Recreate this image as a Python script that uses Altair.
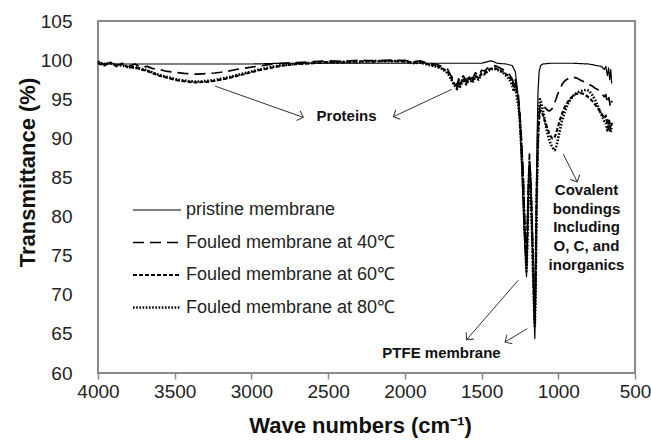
import math
import altair as alt
import pandas as pd

FONT = "Liberation Sans, Arial, sans-serif"

series_names = ["pristine membrane", "Fouled membrane at 40℃",
                "Fouled membrane at 60℃", "Fouled membrane at 80℃"]
series_dash = [[1, 0], [11, 6], [4, 2], [1.6, 1.6]]
series_width = [1.2, 2.6, 2.6, 2.0]

x_ticks = [4000, 3500, 3000, 2500, 2000, 1500, 1000, 500]
y_ticks = [60, 65, 70, 75, 80, 85, 90, 95, 100, 105]

wn_pristine = [4000, 3900, 3800, 3700, 3600, 3400, 3200, 3000, 2800, 2600,
               2400, 2200, 2000, 1800, 1600, 1500, 1460, 1440, 1420, 1400,
               1340, 1300, 1280, 1265, 1250, 1240, 1230, 1220, 1212, 1207,
               1200, 1192, 1185, 1178, 1170, 1162, 1156, 1153, 1149, 1143,
               1138, 1132, 1125, 1115, 1100, 1050, 1000, 900, 800, 750,
               720, 700, 690, 680, 672, 665, 658, 652]
t_pristine = [99.6, 99.5, 99.5, 99.5, 99.5, 99.5, 99.5, 99.5, 99.6, 99.6,
              99.6, 99.6, 99.6, 99.6, 99.6, 99.6, 99.8, 99.9, 99.8, 99.6,
              99.5, 99.3, 98.5, 96, 92, 87, 82, 77, 74, 72.3,
              78, 85, 87, 84, 78, 71, 66, 64.4, 68, 80,
              90, 96, 98.5, 99.3, 99.5, 99.6, 99.6, 99.6, 99.5, 99.3,
              99.2, 98.8, 99.2, 98.0, 99.0, 97.5, 98.8, 97.0]

wn_fouled = [4000, 3960, 3920, 3880, 3840, 3800, 3760, 3720, 3680, 3640,
             3600, 3560, 3520, 3480, 3440, 3400, 3360, 3320, 3280, 3240,
             3200, 3150, 3100, 3050, 3000, 2950, 2900, 2850, 2800, 2700,
             2600, 2500, 2400, 2300, 2200, 2100, 2000, 1950, 1900, 1850,
             1800, 1760, 1720, 1700, 1680, 1660, 1650, 1640, 1620, 1600,
             1580, 1560, 1540, 1520, 1500, 1480, 1460, 1440, 1420, 1400,
             1380, 1360, 1340, 1320, 1300, 1290, 1280, 1270, 1260, 1250,
             1240, 1230, 1220, 1212, 1207, 1202, 1195, 1188, 1180, 1172,
             1165, 1158, 1153, 1148, 1140, 1130, 1120, 1110, 1100, 1090,
             1080, 1070, 1060, 1050, 1040, 1030, 1023, 1015, 1005, 990,
             975, 960, 940, 920, 900, 880, 860, 840, 820, 800,
             780, 760, 740, 720, 700, 690, 680, 670, 660, 650]

t_40 = [99.7, 99.4, 99.8, 99.3, 99.6, 99.2, 99.5, 99.1, 99.2, 98.9,
        98.8, 98.6, 98.5, 98.4, 98.3, 98.25, 98.2, 98.25, 98.3, 98.35,
        98.45, 98.6, 98.8, 98.95, 99.1, 99.25, 99.4, 99.5, 99.6, 99.7,
        99.8, 99.9, 99.85, 100.0, 99.9, 100.0, 99.95, 99.8, 99.9, 99.6,
        99.5, 99.2, 98.8, 98.0, 97.5, 96.8, 97.6, 97.2, 98.0, 97.4,
        98.1, 97.6, 98.4, 98.0, 98.7, 98.6, 99.0, 99.2, 99.3, 99.2,
        99.0, 98.8, 98.5, 98.2, 97.6, 96.8, 97.5, 96.2, 95.5, 93,
        90, 86, 80, 76, 74, 78, 84, 88, 85, 80,
        75, 70, 67, 72, 85, 92, 94, 94.5, 94.2, 94.0,
        93.8, 93.6, 93.5, 93.6, 93.8, 94.2, 94.6, 95.0, 95.6, 96.3,
        96.9, 97.3, 97.6, 97.8, 97.8, 97.7, 97.5, 97.3, 97.1, 96.9,
        96.7, 96.4, 96.2, 95.8, 95.3, 95.6, 94.5, 95.2, 94.0, 94.8]

t_60 = [99.6, 99.3, 99.7, 99.2, 99.5, 99.0, 99.2, 98.8, 98.6, 98.3,
        98.0, 97.8, 97.6, 97.4, 97.3, 97.2, 97.15, 97.2, 97.25, 97.35,
        97.5, 97.7, 97.95, 98.2, 98.45, 98.7, 98.9, 99.1, 99.3, 99.5,
        99.6, 99.75, 99.7, 99.85, 99.8, 99.9, 99.8, 99.7, 99.75, 99.5,
        99.3, 99.0, 98.5, 97.8, 97.0, 96.5, 97.2, 96.8, 97.7, 97.0,
        97.8, 97.3, 98.0, 97.7, 98.3, 98.3, 98.7, 98.9, 99.0, 98.9,
        98.7, 98.5, 98.2, 97.9, 97.3, 96.5, 97.2, 95.8, 95.0, 92.5,
        89, 85, 79, 75.5, 73.5, 77, 83, 87, 84, 79,
        74, 69, 66.5, 71, 84, 91, 93.5, 93.5, 93.0, 92.4,
        91.8, 91.2, 90.7, 90.3, 90.0, 90.0, 90.2, 90.6, 91.3, 92.3,
        93.2, 93.9, 94.6, 95.1, 95.5, 95.7, 95.8, 95.7, 95.5, 95.2,
        94.8, 94.3, 93.8, 93.2, 92.6, 92.9, 91.8, 92.5, 91.2, 92.0]

t_80 = [99.8, 99.5, 99.6, 99.4, 99.3, 99.1, 99.0, 98.9, 98.7, 98.4,
        98.1, 97.9, 97.7, 97.5, 97.4, 97.3, 97.25, 97.3, 97.35, 97.45,
        97.6, 97.8, 98.05, 98.3, 98.55, 98.8, 99.0, 99.2, 99.35, 99.55,
        99.65, 99.7, 99.8, 99.75, 99.9, 99.85, 99.9, 99.6, 99.7, 99.4,
        99.2, 98.9, 98.3, 97.6, 96.9, 96.3, 97.0, 96.6, 97.5, 96.9,
        97.6, 97.1, 97.9, 97.5, 98.2, 98.2, 98.6, 98.8, 98.9, 98.8,
        98.6, 98.4, 98.0, 97.6, 96.8, 96.0, 96.8, 95.2, 94.2, 92,
        88.5, 84.5, 78.5, 75, 73, 76.5, 82.5, 86.5, 83.5, 78.5,
        73.5, 68.5, 66, 70.5, 83, 92, 95.0, 94.5, 93.5, 92.5,
        91.5, 90.6, 89.9, 89.3, 88.9, 88.6, 88.5, 88.8, 89.6, 91.0,
        92.3, 93.3, 94.3, 95.0, 95.5, 95.8, 96.0, 96.1, 96.2, 96.1,
        95.6, 94.9, 94.0, 93.1, 92.2, 92.0, 91.0, 91.8, 90.8, 91.3]

# annotations (data units)
note_text = ["Proteins", "PTFE membrane", "Covalent\nbondings\nIncluding\nO, C, and\ninorganics"]
note_wn = [2380, 1761, 816]
note_t = [92.85, 62.5, 83.4]

arrow_wn0 = [3237, 1695, 1261, 1202, 967]
arrow_t0 = [96.68, 96.26, 71.86, 65.68, 87.98]
arrow_wn1 = [2662, 2075, 1597, 1347, 876]
arrow_t1 = [92.68, 92.76, 64.27, 63.97, 84.44]

W, H = 537, 352
kx = W / 3500.0
ky = H / 45.0

rows = []
for w, t in zip(wn_pristine, t_pristine):
    rows.append({"wn": w, "t": t, "series": series_names[0]})
for name, vals in zip(series_names[1:], [t_40, t_60, t_80]):
    for w, t in zip(wn_fouled, vals):
        rows.append({"wn": w, "t": t, "series": name})
df = pd.DataFrame(rows)

arrows = pd.DataFrame({"wn0": arrow_wn0, "t0": arrow_t0, "wn1": arrow_wn1, "t1": arrow_t1})
angles = []
for a, b, c, d in zip(arrow_wn0, arrow_t0, arrow_wn1, arrow_t1):
    dx = (a - c) * kx
    dy = (b - d) * ky
    angles.append(math.degrees(math.atan2(dy, dx)) % 360)
arrows["ang"] = angles

notes = pd.DataFrame({"text": note_text, "wn": note_wn, "t": note_t})

xscale = alt.Scale(domain=[4000, 500], nice=False, zero=False)
yscale = alt.Scale(domain=[60, 105], nice=False, zero=False)

x_axis = alt.Axis(values=x_ticks, format="d", title="Wave numbers (cm⁻¹)",
                  grid=False, tickSize=6, tickColor="#8a8a8a", tickWidth=1.5,
                  domain=False, labelPadding=3, labelFontSize=19,
                  labelFlush=False, labelOverlap=False,
                  titleFontSize=22, titleFontWeight="bold",
                  titleBaseline="middle", titleY=52, titleX=262)
y_axis = alt.Axis(values=y_ticks, title="Transmittance (%)", grid=False,
                  tickSize=0, domain=False, labelPadding=26, labelFontSize=19,
                  labelFlush=False, labelOverlap=False,
                  titleFontSize=22, titleFontWeight="bold",
                  titleBaseline="middle", titleAlign="center",
                  titleX=-71, titleY=151, titleAngle=270)

legend_kw = dict(title=None, orient="none", legendX=50, legendY=180,
                 symbolType="M-4,0H4", symbolSize=144,
                 symbolStrokeColor="black",
                 labelFontSize=18, labelFont=FONT, labelLimit=500,
                 labelColor="#222222",
                 labelOffset=20, rowPadding=14.5)

lines = alt.Chart(df).mark_line(color="black", strokeJoin="round").encode(
    x=alt.X("wn:Q", scale=xscale, axis=x_axis),
    y=alt.Y("t:Q", scale=yscale, axis=y_axis),
    strokeDash=alt.StrokeDash("series:N",
                              scale=alt.Scale(domain=series_names, range=series_dash),
                              legend=alt.Legend(**legend_kw)),
    strokeWidth=alt.StrokeWidth("series:N",
                                scale=alt.Scale(domain=series_names, range=series_width),
                                legend=alt.Legend(**legend_kw)),
)

arrow_lines = alt.Chart(arrows).mark_rule(color="#333333", strokeWidth=1).encode(
    x=alt.X("wn0:Q", scale=xscale, axis=x_axis), x2="wn1:Q",
    y=alt.Y("t0:Q", scale=yscale, axis=y_axis), y2="t1:Q")

arrow_heads = alt.Chart(arrows).mark_point(
    shape="M-1,-1L0,0L-1,1", filled=False, color="#333333", strokeWidth=1, size=110, opacity=1
).encode(x=alt.X("wn1:Q", scale=xscale, axis=x_axis),
         y=alt.Y("t1:Q", scale=yscale, axis=y_axis),
         angle=alt.Angle("ang:Q", scale=None))

note_marks = alt.Chart(notes).mark_text(
    font=FONT, fontSize=15, fontWeight="bold", color="#111111",
    align="center", baseline="middle", lineBreak="\n", lineHeight=18.7
).encode(x=alt.X("wn:Q", scale=xscale, axis=x_axis),
         y=alt.Y("t:Q", scale=yscale, axis=y_axis), text="text:N")

chart = alt.layer(lines, arrow_lines, arrow_heads, note_marks).properties(
    width=W, height=H,
    autosize=alt.AutoSizeParams(type="none"),
    padding={"left": 98, "top": 21, "right": 651 - 98 - W, "bottom": 443 - 21 - H},
    background="white",
).configure_view(
    stroke="#8a8a8a", strokeWidth=2
).configure_axis(
    labelFont=FONT, titleFont=FONT, labelColor="#222222", titleColor="#111111"
)

chart.save("out.html", embed_options={"renderer": "svg", "actions": False})
